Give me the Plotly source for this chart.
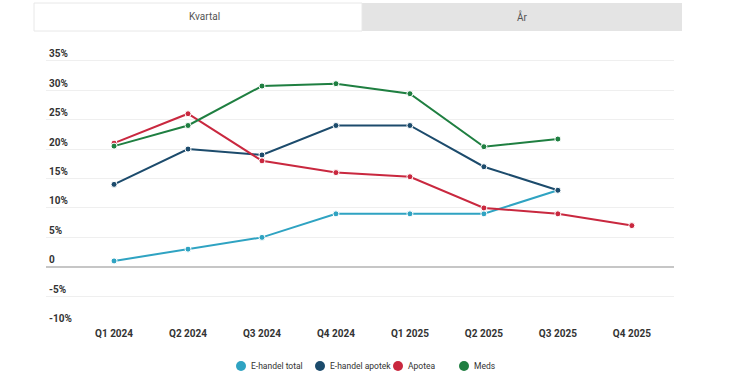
import plotly.graph_objects as go

quarters = ["Q1 2024", "Q2 2024", "Q3 2024", "Q4 2024", "Q1 2025", "Q2 2025", "Q3 2025", "Q4 2025"]
ehandel_total = [1, 3, 5, 9, 9, 9, 13, None]
ehandel_apotek = [14, 20, 19, 24, 24, 17, 13, None]
apotea = [21, 26, 18, 16, 15.3, 10, 9, 7]
meds = [20.5, 24, 30.7, 31.1, 29.4, 20.4, 21.7, None]

series_names = ["E-handel total", "E-handel apotek", "Apotea", "Meds"]
series_colors = ["#2fa3c2", "#1c4b6c", "#c9283f", "#1f7f41"]
series_values = [ehandel_total, ehandel_apotek, apotea, meds]

y_tickvals = [-10, -5, 0, 5, 10, 15, 20, 25, 30, 35]
y_ticktext = ["-10%", "-5%", "0", "5%", "10%", "15%", "20%", "25%", "30%", "35%"]

tabs = ["Kvartal", "År"]

FONT = "Roboto, sans-serif"

fig = go.Figure()
for name, color, vals in zip(series_names, series_colors, series_values):
    fig.add_trace(go.Scatter(
        x=quarters, y=vals, mode="lines+markers", name=name,
        line=dict(color=color, width=2),
        marker=dict(color=color, size=6, line=dict(color="white", width=1)),
        showlegend=False, connectgaps=False, cliponaxis=False,
    ))

W, H = 732, 377
L, R, T, B = 46, 58, 46, 51
pw, ph = W - L - R, H - T - B

def px_x(p):
    return (p - L) / pw

def px_y(p):
    return (H - B - p) / ph

shapes = [
    dict(type="rect", xref="paper", yref="paper",
         x0=px_x(362), x1=px_x(682), y0=px_y(31), y1=px_y(3),
         fillcolor="#e4e4e4", line=dict(width=0), layer="below"),
    dict(type="rect", xref="paper", yref="paper",
         x0=px_x(34), x1=px_x(362), y0=px_y(31), y1=px_y(3),
         fillcolor="white", line=dict(width=1, color="#e8e8e8"), layer="below"),
]
annotations = [
    dict(text=tabs[0], xref="paper", yref="paper", x=px_x(204), y=px_y(17),
         showarrow=False, font=dict(family=FONT, size=10, color="#555"),
         xanchor="center", yanchor="middle"),
    dict(text=tabs[1], xref="paper", yref="paper", x=px_x(522), y=px_y(17),
         showarrow=False, font=dict(family=FONT, size=10, color="#555"),
         xanchor="center", yanchor="middle"),
]

# legend (drawn manually to match the compact layout)
legend_circle_x = [241, 320, 398, 464]
legend_y = 366
for name, color, cx in zip(series_names, series_colors, legend_circle_x):
    shapes.append(dict(type="circle", xref="paper", yref="paper",
                       x0=px_x(cx - 5), x1=px_x(cx + 5), y0=px_y(legend_y + 5), y1=px_y(legend_y - 5),
                       fillcolor=color, line=dict(width=0)))
    annotations.append(dict(text=name, xref="paper", yref="paper", x=px_x(cx + 8), y=px_y(legend_y),
                            showarrow=False, xanchor="left", yanchor="middle",
                            font=dict(family=FONT, size=8.5, color="#333")))

fig.update_layout(
    width=W, height=H,
    margin=dict(l=L, r=R, t=T, b=B, autoexpand=False),
    paper_bgcolor="white", plot_bgcolor="white",
    font=dict(family=FONT, color="#333"),
    shapes=shapes, annotations=annotations,
    showlegend=False,
    hovermode=False,
)
fig.update_xaxes(
    type="category", range=[-0.92, 7.57], showgrid=False, zeroline=False, showline=False,
    ticks="", automargin=False,
    tickfont=dict(size=10, color="#333", family=FONT, weight="bold"),
)
fig.update_yaxes(
    range=[-10.05, 37.5], tickvals=y_tickvals, ticktext=y_ticktext,
    ticklabelposition="inside top", showgrid=True, gridcolor="#efefef", gridwidth=1,
    zeroline=True, zerolinecolor="#c6c6c6", zerolinewidth=2, showline=False, ticks="",
    automargin=False,
    tickfont=dict(size=10, color="#333", family=FONT, weight="bold"),
)

fig.write_html("out.html", config={"displayModeBar": False},
               post_script="document.body.style.margin='0';")
